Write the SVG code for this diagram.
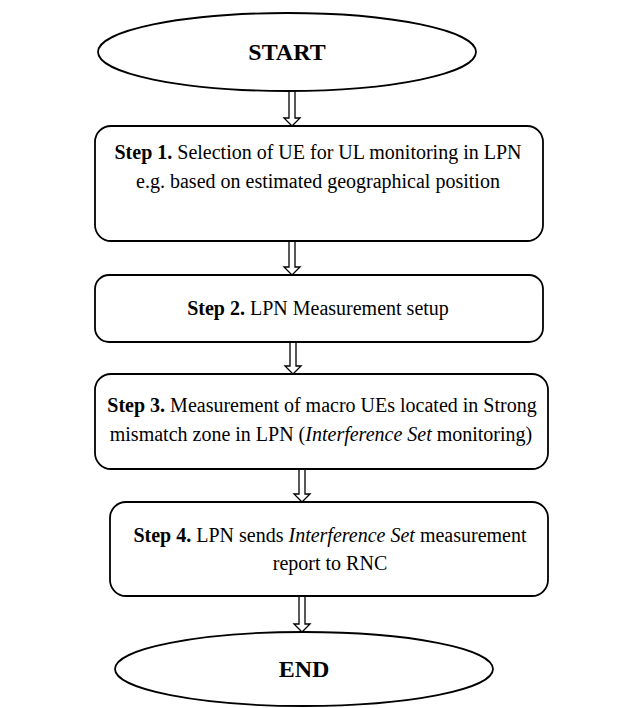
<svg xmlns="http://www.w3.org/2000/svg" width="637" height="708" viewBox="0 0 637 708">
  <style>
    .shape { fill: #fff; stroke: #000; stroke-width: 1.8; }
    .arrow { fill: #fff; stroke: #000; stroke-width: 1.3; stroke-linejoin: miter; }
    .t { font-family: 'Liberation Serif', 'DejaVu Serif', 'Times New Roman', serif; font-size: 20px; fill: #000; text-anchor: middle; }
    .term { font-weight: bold; font-size: 24px; }
    .b { font-weight: bold; }
    .i { font-style: italic; }
  </style>
  <rect width="637" height="708" fill="#fff"/>

  <!-- block arrows between steps -->
  <g id="connectors">
    <path class="arrow" d="M289,91 V118 H284 L292,126 L300,118 H295 V91"/>
    <path class="arrow" d="M289,241 V267 H284 L292,275 L300,267 H295 V241"/>
    <path class="arrow" d="M290,342 V366 H285 L293,374 L301,366 H296 V342"/>
    <path class="arrow" d="M299,469 V494 H294 L302,502 L310,494 H305 V469"/>
    <path class="arrow" d="M299,596 V624 H294 L302,632 L310,624 H305 V596"/>
  </g>

  <g id="start">
    <ellipse class="shape" cx="287" cy="52" rx="189" ry="39"/>
    <text class="t term" x="287" y="60">START</text>
  </g>

  <g id="step1">
    <rect class="shape" x="95" y="126" width="448" height="115" rx="16"/>
    <text class="t" x="318" y="159"><tspan class="b">Step 1.</tspan> Selection of UE for UL monitoring in LPN</text>
    <text class="t" x="318" y="188">e.g. based on estimated geographical position</text>
  </g>

  <g id="step2">
    <rect class="shape" x="95" y="275" width="448" height="67" rx="14"/>
    <text class="t" x="318" y="315"><tspan class="b">Step 2.</tspan> LPN Measurement setup</text>
  </g>

  <g id="step3">
    <rect class="shape" x="95" y="374" width="453" height="95" rx="16"/>
    <text class="t" x="322" y="412"><tspan class="b">Step 3.</tspan>  Measurement of macro UEs located in Strong</text>
    <text class="t" x="321" y="441">mismatch zone in LPN (<tspan class="i">Interference Set</tspan> monitoring)</text>
  </g>

  <g id="step4">
    <rect class="shape" x="110" y="502" width="438" height="94" rx="16"/>
    <text class="t" x="330" y="542"><tspan class="b">Step 4.</tspan> LPN sends <tspan class="i">Interference Set</tspan> measurement</text>
    <text class="t" x="330" y="570">report to RNC</text>
  </g>

  <g id="end">
    <ellipse class="shape" cx="304" cy="669" rx="189" ry="37"/>
    <text class="t term" x="304" y="677">END</text>
  </g>
</svg>
